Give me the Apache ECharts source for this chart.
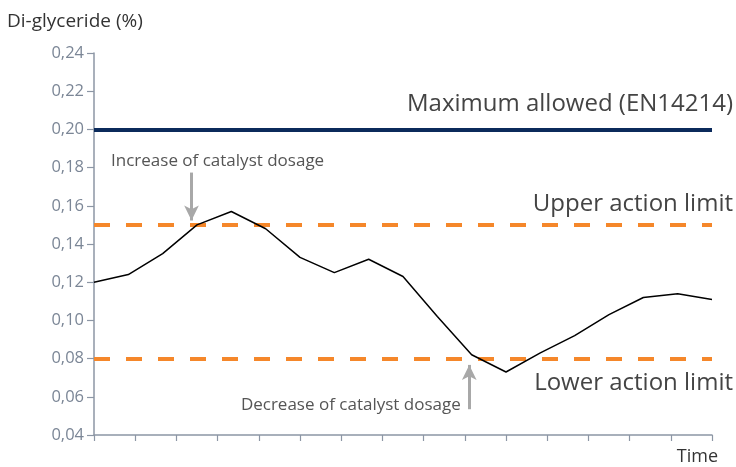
<!DOCTYPE html>
<html>
<head>
<meta charset="utf-8">
<script src="https://cdn.jsdelivr.net/npm/echarts@6/dist/echarts.min.js"></script>
<style>
  html, body { margin: 0; padding: 0; background: #fff; }
  #chart { width: 736px; height: 467px; }
</style>
</head>
<body>
<div id="chart"></div>
<script>
// time steps (x) and measured di-glyceride content (%)
var times = [0, 1, 2, 3, 4, 5, 6, 7, 8, 9, 10, 11, 12, 13, 14, 15, 16, 17, 18];
var diglyceride = [0.120, 0.124, 0.135, 0.150, 0.157, 0.148, 0.133, 0.125, 0.132, 0.123,
                   0.102, 0.082, 0.073, 0.083, 0.092, 0.103, 0.112, 0.114, 0.111];

// reference levels
var maxAllowed = 0.20;
var upperLimit = 0.15;
var lowerLimit = 0.08;

// annotation arrows [x, yFrom, yTo] and their texts [x, y]
var increaseArrow = [2.84, 0.1774, 0.1523];
var decreaseArrow = [10.93, 0.0535, 0.0767];
var increaseText = [3.60, 0.1832];
var decreaseText = [7.48, 0.0557];

var fontFam = '"Open Sans", "Noto Sans", sans-serif';
var axisGray = '#8c96a5';

var chart = echarts.init(document.getElementById('chart'));

chart.setOption({
    animation: false,
    title: {
        text: 'Di-glyceride (%)',
        left: 7,
        top: 12,
        padding: 0,
        textStyle: { fontSize: 19, fontWeight: 'normal', color: '#333', fontFamily: fontFam }
    },
    grid: { left: 94, right: 24, top: 53, bottom: 32, containLabel: false },
    xAxis: {
        type: 'value',
        min: 0,
        max: 18,
        interval: 1.2,
        name: 'Time',
        nameLocation: 'end',
        nameGap: 6,
        nameTextStyle: {
            fontSize: 18, color: '#333', fontFamily: fontFam,
            align: 'right', verticalAlign: 'top', padding: [13, 0, 0, 0]
        },
        axisLine: { show: true, lineStyle: { color: axisGray, width: 1.5 } },
        axisTick: { show: true, length: 6, lineStyle: { color: axisGray, width: 1.2 } },
        axisLabel: { show: false },
        splitLine: { show: false }
    },
    yAxis: {
        type: 'value',
        min: 0.04,
        max: 0.24,
        interval: 0.02,
        axisLine: { show: true, lineStyle: { color: axisGray, width: 1.5 } },
        axisTick: { show: true, length: 7, lineStyle: { color: axisGray, width: 1.2 } },
        axisLabel: {
            margin: 10,
            fontSize: 16.5,
            color: '#7b8696',
            fontFamily: fontFam,
            formatter: function (v) { return v.toFixed(2).replace('.', ','); }
        },
        splitLine: { show: false }
    },
    series: [
        {
            // measured curve
            type: 'line',
            data: times.map(function (t, i) { return [t, diglyceride[i]]; }),
            symbol: 'none',
            lineStyle: { color: '#000', width: 1.5 },
            z: 5
        },
        {
            // limit lines
            type: 'line',
            data: [],
            markLine: {
                silent: true,
                symbol: ['none', 'none'],
                data: [
                    {
                        yAxis: maxAllowed,
                        lineStyle: { color: '#0b2a5b', width: 4, type: 'solid' },
                        label: {
                            show: true, position: 'insideEndTop', formatter: 'Maximum allowed (EN14214)',
                            fontSize: 24, color: '#444', fontFamily: fontFam, offset: [26, -8]
                        }
                    },
                    {
                        yAxis: upperLimit,
                        lineStyle: { color: '#f5872a', width: 4, type: [16, 16] },
                        label: {
                            show: true, position: 'insideEndTop', formatter: 'Upper action limit',
                            fontSize: 24, color: '#444', fontFamily: fontFam, offset: [26, -4]
                        }
                    },
                    {
                        yAxis: lowerLimit,
                        lineStyle: { color: '#f5872a', width: 4, type: [16, 16] },
                        label: {
                            show: true, position: 'insideEndBottom', formatter: 'Lower action limit',
                            fontSize: 24, color: '#444', fontFamily: fontFam, offset: [26, 8]
                        }
                    }
                ]
            },
            z: 3
        },
        {
            // annotation arrows and texts
            type: 'line',
            data: [],
            markLine: {
                silent: true,
                symbol: ['none', 'arrow'],
                symbolSize: [11, 15],
                lineStyle: { color: '#a8a8a8', width: 3, type: 'solid' },
                label: { show: false },
                data: [
                    [{ coord: [increaseArrow[0], increaseArrow[1]] }, { coord: [increaseArrow[0], increaseArrow[2]] }],
                    [{ coord: [decreaseArrow[0], decreaseArrow[1]] }, { coord: [decreaseArrow[0], decreaseArrow[2]] }]
                ]
            },
            markPoint: {
                silent: true,
                symbol: 'circle',
                symbolSize: 0,
                label: { show: true, position: 'inside', fontSize: 17, color: '#555', fontFamily: fontFam },
                data: [
                    { coord: increaseText, value: 'Increase of catalyst dosage' },
                    { coord: decreaseText, value: 'Decrease of catalyst dosage' }
                ]
            },
            z: 4
        }
    ]
});
</script>
</body>
</html>
